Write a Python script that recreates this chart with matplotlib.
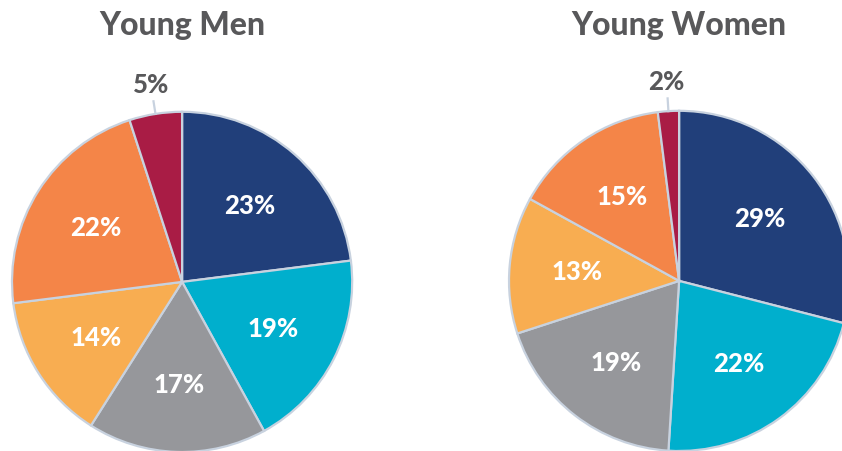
import numpy as np
import matplotlib
matplotlib.use('Agg')
import matplotlib.pyplot as plt

plt.rcParams['font.family'] = ['Lato', 'DejaVu Sans']

# 数据：从上方顺时针排列
groups = ['Young Men', 'Young Women']
men_values = [23, 19, 17, 14, 22, 5]
women_values = [29, 22, 19, 13, 15, 2]
colors = ['#213f7a', '#00afcd', '#96979b', '#f8ad51', '#f48548', '#a91c45']

edge = '#c8d2df'
title_color = '#58585a'


def draw_pie(ax, values, title, cx):
    wedges, _ = ax.pie(values, colors=colors, startangle=90, counterclock=False,
                       wedgeprops=dict(edgecolor=edge, linewidth=1.6))
    for w in wedges:
        w.set_clip_on(False)
    ax.set_xlim(-1.02, 1.02)
    ax.set_ylim(-1.02, 1.02)
    ax.set_aspect('equal')
    for w, v in zip(wedges, values):
        mid = np.deg2rad((w.theta1 + w.theta2) / 2)
        c, s = np.cos(mid), np.sin(mid)
        if v >= 10:
            ax.text(0.6 * c, 0.6 * s, f'{v}%', ha='center', va='center',
                    color='white', fontsize=18.5, fontweight='black')
        else:
            # 小扇区的标签放在外面，加一条引线
            ax.plot([1.0 * c, 1.075 * c], [1.0 * s, 1.075 * s], color=edge,
                    lw=1.6, clip_on=False)
            ax.text(1.18 * c, 1.18 * s, f'{v}%', ha='center', va='center',
                    color=title_color, fontsize=18.5, fontweight='black')
    fig.text(cx / 842, 1 - 25 / 452, title, ha='center', va='center',
             color=title_color, fontsize=23, fontweight='black')


fig = plt.figure(figsize=(8.42, 4.52), dpi=100)
size = 347 / 842
ax1 = fig.add_axes([8.6 / 842, -4.4 / 452, size, 347 / 452])
ax2 = fig.add_axes([505.6 / 842, -3.4 / 452, size, 347 / 452])

draw_pie(ax1, men_values, groups[0], 182)
draw_pie(ax2, women_values, groups[1], 679)

fig.savefig('out.png', dpi=100)
